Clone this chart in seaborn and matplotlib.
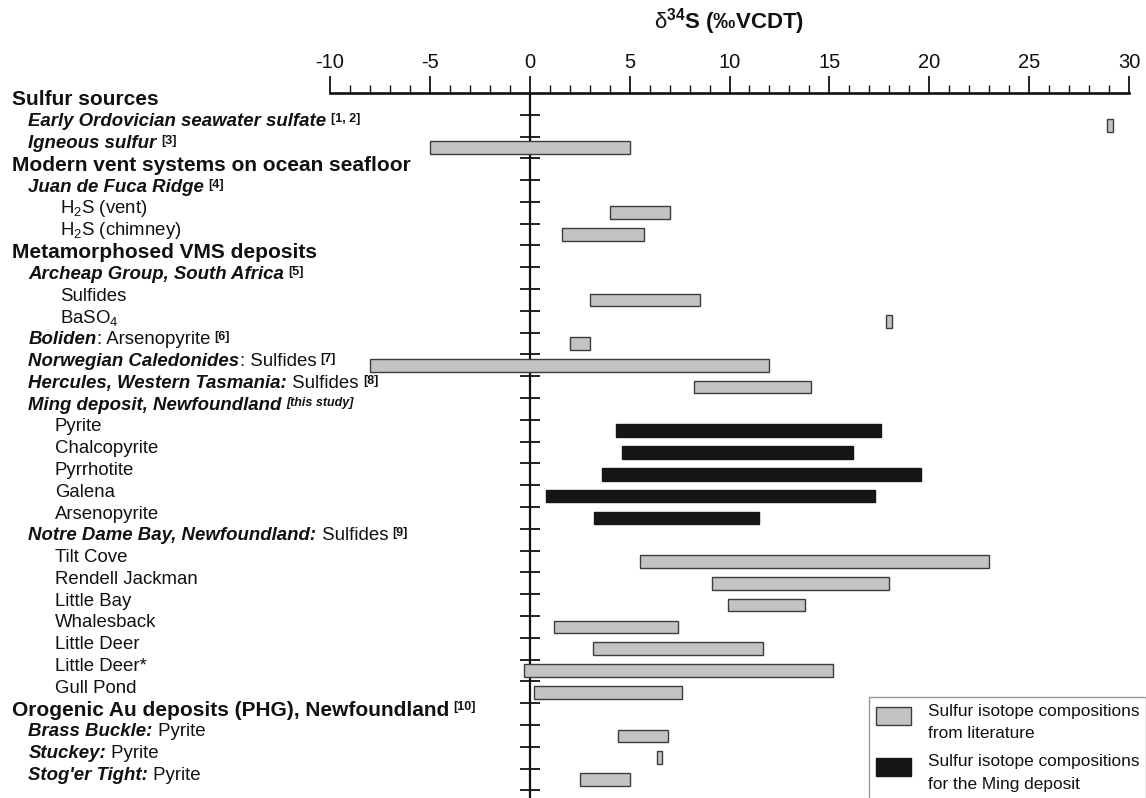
import numpy as np
import pandas as pd
import matplotlib
matplotlib.use("Agg")
import matplotlib.pyplot as plt
import matplotlib.transforms as mtransforms
from matplotlib.patches import Patch, Rectangle
from matplotlib.legend_handler import HandlerPatch
from matplotlib.ticker import MultipleLocator
import seaborn as sns

# Setup
ink = "#111111"
sns.set_style("ticks", rc={"axes.edgecolor": ink, "xtick.color": ink, "ytick.color": ink,
                           "text.color": ink, "axes.labelcolor": ink})
plt.rcParams["font.family"] = ["Liberation Sans", "DejaVu Sans"]
plt.rcParams["mathtext.fontset"] = "custom"
plt.rcParams["mathtext.rm"] = "Liberation Sans"
plt.rcParams["mathtext.it"] = "Liberation Sans:italic"
plt.rcParams["mathtext.bf"] = "Liberation Sans:bold"
plt.rcParams["axes.unicode_minus"] = False

# Row labels, top to bottom: (text, style) segments
row_labels = [
    [("Sulfur sources", "head")],
    [("Early Ordovician seawater sulfate", "bi"), ("[1, 2]", "ref")],
    [("Igneous sulfur", "bi"), ("[3]", "ref")],
    [("Modern vent systems on ocean seafloor", "head")],
    [("Juan de Fuca Ridge", "bi"), ("[4]", "ref")],
    [("H$_2$S (vent)", "r")],
    [("H$_2$S (chimney)", "r")],
    [("Metamorphosed VMS deposits", "head")],
    [("Archeap Group, South Africa", "bi"), ("[5]", "ref")],
    [("Sulfides", "r")],
    [("BaSO$_4$", "r")],
    [("Boliden", "bi"), (": Arsenopyrite", "r"), ("[6]", "ref")],
    [("Norwegian Caledonides", "bi"), (": Sulfides", "r"), ("[7]", "ref")],
    [("Hercules, Western Tasmania:", "bi"), (" Sulfides", "r"), ("[8]", "ref")],
    [("Ming deposit, Newfoundland", "bi"), ("[this study]", "refi")],
    [("Pyrite", "r")],
    [("Chalcopyrite", "r")],
    [("Pyrrhotite", "r")],
    [("Galena", "r")],
    [("Arsenopyrite", "r")],
    [("Notre Dame Bay, Newfoundland:", "bi"), (" Sulfides", "r"), ("[9]", "ref")],
    [("Tilt Cove", "r")],
    [("Rendell Jackman", "r")],
    [("Little Bay", "r")],
    [("Whalesback", "r")],
    [("Little Deer", "r")],
    [("Little Deer*", "r")],
    [("Gull Pond", "r")],
    [("Orogenic Au deposits (PHG), Newfoundland", "head"), ("[10]", "ref")],
    [("Brass Buckle:", "bi"), (" Pyrite", "r")],
    [("Stuckey:", "bi"), (" Pyrite", "r")],
    [("Stog'er Tight:", "bi"), (" Pyrite", "r")],
]
row_keys = ["".join(t for t, s in segs if not s.startswith("ref")) for segs in row_labels]

# d34S ranges from literature
lit_samples = ["Early Ordovician seawater sulfate", "Igneous sulfur", "H$_2$S (vent)",
               "H$_2$S (chimney)", "Sulfides", "BaSO$_4$", "Boliden: Arsenopyrite",
               "Norwegian Caledonides: Sulfides", "Hercules, Western Tasmania: Sulfides",
               "Tilt Cove", "Rendell Jackman", "Little Bay", "Whalesback", "Little Deer",
               "Little Deer*", "Gull Pond", "Brass Buckle: Pyrite", "Stuckey: Pyrite",
               "Stog'er Tight: Pyrite"]
lit_min = [28.9, -5.0, 4.0, 1.6, 3.0, 17.85, 2.0, -8.0, 8.2, 5.5, 9.1, 9.9, 1.2, 3.15,
           -0.3, 0.2, 4.4, 6.38, 2.5]
lit_max = [29.2, 5.0, 7.0, 5.7, 8.5, 18.15, 3.0, 12.0, 14.1, 23.0, 18.0, 13.8, 7.4, 11.7,
           15.2, 7.6, 6.9, 6.64, 5.0]

# d34S ranges for the Ming deposit (this study)
ming_samples = ["Pyrite", "Chalcopyrite", "Pyrrhotite", "Galena", "Arsenopyrite"]
ming_min = [4.3, 4.6, 3.6, 0.8, 3.2]
ming_max = [17.6, 16.2, 19.6, 17.3, 11.5]

legend_labels = ["Sulfur isotope compositions\nfrom literature",
                 "Sulfur isotope compositions\nfor the Ming deposit"]


def span_frame(samples, lo, hi):
    df = pd.DataFrame({"sample": samples, "lo": lo, "hi": hi})
    df["sample"] = pd.Categorical(df["sample"], categories=row_keys, ordered=True)
    df = df.sort_values("sample")
    df["span"] = df["hi"] - df["lo"]
    return df


lit_df = span_frame(lit_samples, lit_min, lit_max)
ming_df = span_frame(ming_samples, ming_min, ming_max)

W, H = 1146, 798
fig = plt.figure(figsize=(W / 100, H / 100), dpi=100)
ax = fig.add_axes([330 / W, 0, 799 / W, 1 - 92.7 / H])

lit_face, lit_edge = "#c3c3c3", "#3c3c3c"
ming_face = "#161616"
for df, face, edge in [(lit_df, lit_face, lit_edge), (ming_df, ming_face, ming_face)]:
    sns.barplot(data=df, x="span", y="sample", order=row_keys, orient="y",
                left=df["lo"].to_numpy(), color=face, saturation=1, edgecolor=edge,
                linewidth=1.0, width=0.58, errorbar=None, zorder=3, ax=ax)

# Axes: x on top, zero line with row ticks
n = len(row_keys)
ax.set_xlim(-10, 30)
ax.set_ylim(n - 0.15, -0.51)
ax.spines["right"].set_visible(False)
ax.spines["bottom"].set_visible(False)
ax.spines["left"].set_position(("data", 0))
ax.spines["left"].set_linewidth(1.6)
ax.spines["top"].set_linewidth(1.9)
ax.xaxis.tick_top()
ax.xaxis.set_major_locator(MultipleLocator(5))
ax.xaxis.set_minor_locator(MultipleLocator(1))
ax.tick_params(axis="x", which="major", direction="out", length=12.2, width=1.3, pad=3,
               labelsize=14.5)
ax.tick_params(axis="x", which="minor", direction="out", length=5.8, width=1.0)
ax.set_yticks(np.arange(0.5, n - 0.4, 1))
ax.tick_params(axis="y", which="major", direction="inout", length=14.4, width=1.3,
               left=True, labelleft=False)
ax.set_ylabel("")
ax.xaxis.set_label_position("top")
ax.set_xlabel(r"$\mathrm{\delta}^{\mathbf{34}}$S (‰VCDT)", fontsize=16, fontweight="bold",
              labelpad=17)

# Row labels
styles = {
    "head": dict(fontsize=15, fontweight="bold"),
    "bi": dict(fontsize=13.4, fontweight="bold", fontstyle="italic"),
    "r": dict(fontsize=13.4),
    "ref": dict(fontsize=9, fontweight="bold"),
    "refi": dict(fontsize=9, fontweight="bold", fontstyle="italic"),
}
indent = {"head": 11.7, "bi": 28.5, "r": 55.0}
deep_rows = {"H$_2$S (vent)", "H$_2$S (chimney)", "Sulfides", "BaSO$_4$"}
trans = mtransforms.blended_transform_factory(fig.transFigure, ax.transData)
for i, segs in enumerate(row_labels):
    prev = None
    for text, style in segs:
        if prev is None:
            x0 = 59.6 if row_keys[i] in deep_rows else indent[style]
            prev = ax.text(x0 / W, i - 0.18, text, transform=trans, va="center", ha="left",
                           **styles[style])
        elif style.startswith("ref"):
            prev = ax.annotate(text, xy=(1, 1), xycoords=prev, xytext=(3, 0),
                               textcoords="offset points", va="top", ha="left",
                               **styles[style])
        else:
            prev = ax.annotate(text, xy=(1, 0), xycoords=prev, va="bottom", ha="left",
                               **styles[style])


# Legend: swatch sits beside the first line of each two-line label
def top_swatch(legend, orig_handle, xdescent, ydescent, width, height, fontsize):
    sh = 1.03 * fontsize
    return Rectangle((-xdescent, -ydescent + height - sh), width, sh)


handles = [Patch(facecolor=lit_face, edgecolor=lit_edge, linewidth=1.0),
           Patch(facecolor=ming_face, edgecolor=ming_face, linewidth=1.0)]
leg = fig.legend(handles, legend_labels, loc="upper left",
                 bbox_to_anchor=(869 / W, 1 - 696.7 / H), borderaxespad=0, frameon=True,
                 fancybox=False, edgecolor="#9a9a9a", framealpha=1, fontsize=12.4,
                 handlelength=2.05, handleheight=2.5, handletextpad=0.95, borderpad=0.4,
                 labelspacing=0.75,
                 handler_map={Patch: HandlerPatch(patch_func=top_swatch)})
for t in leg.get_texts():
    t.set_linespacing(1.65)

fig.savefig("out.png", dpi=100)
